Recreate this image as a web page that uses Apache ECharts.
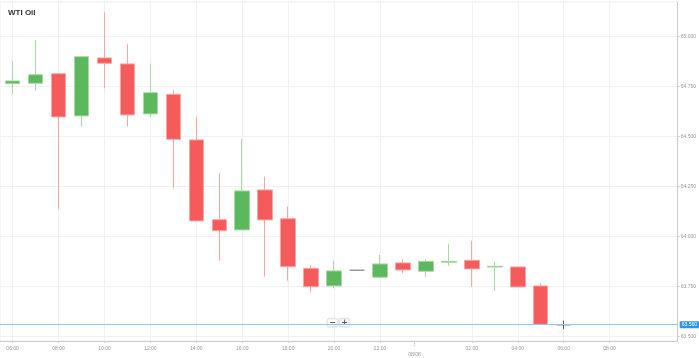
<!DOCTYPE html>
<html>
<head>
<meta charset="utf-8">
<style>html,body{margin:0;padding:0;background:#fff}#c{width:699px;height:358px}</style>
<script src="https://cdn.jsdelivr.net/npm/echarts@6/dist/echarts.min.js"></script>
</head>
<body>
<div id="c"></div>
<script>
// ---- data ----
var titleText = 'WTI Oil';
var times = ['2018-08-07 06:00','2018-08-07 07:00','2018-08-07 08:00','2018-08-07 09:00','2018-08-07 10:00','2018-08-07 11:00','2018-08-07 12:00','2018-08-07 13:00','2018-08-07 14:00','2018-08-07 15:00','2018-08-07 16:00','2018-08-07 17:00','2018-08-07 18:00','2018-08-07 19:00','2018-08-07 20:00','2018-08-07 21:00','2018-08-07 22:00','2018-08-07 23:00','2018-08-08 00:00','2018-08-08 01:00','2018-08-08 02:00','2018-08-08 03:00','2018-08-08 04:00','2018-08-08 05:00','2018-08-08 06:00'];
var openVals  = [64.765,64.767,64.815,64.604,64.894,64.864,64.614,64.712,64.484,64.085,64.034,64.234,64.090,63.842,63.754,63.832,63.797,63.869,63.827,63.872,63.882,63.848,63.849,63.754,63.560];
var closeVals = [64.779,64.810,64.599,64.900,64.867,64.609,64.720,64.487,64.079,64.030,64.229,64.084,63.850,63.750,63.829,63.832,63.864,63.834,63.877,63.877,63.839,63.852,63.749,63.562,63.560];
var lowVals   = [64.712,64.729,64.139,64.550,64.742,64.550,64.600,64.242,64.079,63.880,64.034,63.800,63.780,63.722,63.742,63.832,63.797,63.817,63.800,63.854,63.750,63.730,63.749,63.560,63.537];
var highVals  = [64.879,64.984,64.815,64.900,65.122,64.962,64.865,64.734,64.600,64.319,64.489,64.300,64.150,63.859,63.880,63.832,63.909,63.887,63.887,63.964,63.979,63.875,63.850,63.767,63.580];
var currentPrice = 63.56;
var xTickTimes = ['2018-08-07 06:00','2018-08-07 08:00','2018-08-07 10:00','2018-08-07 12:00','2018-08-07 14:00','2018-08-07 16:00','2018-08-07 18:00','2018-08-07 20:00','2018-08-07 22:00','2018-08-08 02:00','2018-08-08 04:00','2018-08-08 06:00','2018-08-08 08:00'];
var dateLabelTime = '2018-08-07 23:30';
var dateLabelText = '08/08';
var yTicks = [63.5, 63.75, 64.0, 64.25, 64.5, 64.75, 65.0];
var xMinTime = '2018-08-07 05:27';
var xMaxTime = '2018-08-08 10:58';
var yMin = 63.4785, yMax = 65.1735;

function ts(s) {
  var p = s.split(/[- :]/).map(Number);
  return Date.UTC(p[0], p[1] - 1, p[2], p[3], p[4]);
}
function pad(n){ return (n < 10 ? '0' : '') + n; }

var RED = '#f55b5b', RED_B = '#f8a5a5';
var GREEN = '#5cb85c', GREEN_B = '#a9d8a6';

var candleData = times.map(function (t, i) {
  var item = { value: [ts(t), openVals[i], closeVals[i], lowVals[i], highVals[i]] };
  if (i === times.length - 1) {
    item.itemStyle = { color: '#555', color0: '#555', borderColor: '#555', borderColor0: '#555', borderColorDoji: '#555' };
  } else if (openVals[i] === closeVals[i]) {
    item.itemStyle = { borderColor: '#999', borderColor0: '#999', borderColorDoji: '#999', borderWidth: 1.5 };
  }
  return item;
});

var chart = echarts.init(document.getElementById('c'), null, { renderer: 'canvas' });
var gridLeft = 0, gridRight = 20, gridTop = 2, gridBottom = 17;
var option = {
  animation: false,
  backgroundColor: '#fff',
  title: {
    text: titleText, left: 8, top: 9, padding: 0,
    textStyle: { fontSize: 8, fontWeight: 'bold', color: '#333', fontFamily: 'Liberation Sans' }
  },
  grid: { left: gridLeft, right: gridRight, top: gridTop, bottom: gridBottom, show: true, borderColor: '#eee', borderWidth: 1, containLabel: false },
  xAxis: [{
    type: 'value', min: ts(xMinTime), max: ts(xMaxTime), position: 'bottom',
    axisLine: { show: true, lineStyle: { color: '#ccc', width: 1 } },
    axisTick: { show: true, length: 2, lineStyle: { color: '#ccc' }, customValues: xTickTimes.map(ts) },
    axisLabel: {
      customValues: xTickTimes.map(ts), margin: 5, fontSize: 5, color: '#999', fontFamily: 'Liberation Sans',
      formatter: function (v) { var d = new Date(v); return pad(d.getUTCHours()) + ':' + pad(d.getUTCMinutes()); }
    },
    splitLine: { show: true, lineStyle: { color: '#f1f1f1', width: 1 } }
  }, {
    type: 'value', min: ts(xMinTime), max: ts(xMaxTime), position: 'bottom', gridIndex: 0,
    axisLine: { show: false },
    axisTick: { show: true, length: 6, lineStyle: { color: '#bbb', type: 'dotted' }, customValues: [ts(dateLabelTime)] },
    axisLabel: { customValues: [ts(dateLabelTime)], margin: 11, fontSize: 5, color: '#999', fontFamily: 'Liberation Sans', formatter: function () { return dateLabelText; } },
    splitLine: { show: false }
  }],
  yAxis: {
    type: 'value', position: 'right', min: yMin, max: yMax,
    axisLine: { show: true, lineStyle: { color: '#ccc', width: 1 } },
    axisTick: { show: true, length: 2, lineStyle: { color: '#ccc' }, customValues: yTicks },
    axisLabel: { customValues: yTicks, margin: 3, fontSize: 5, color: '#999', fontFamily: 'Liberation Sans', formatter: function (v) { return v.toFixed(3); } },
    splitLine: { show: true, lineStyle: { color: '#f1f1f1', width: 1 } }
  },
  series: [{
    type: 'candlestick',
    xAxisIndex: 0, yAxisIndex: 0,
    barWidth: 15,
    encode: { x: 0, y: [1, 2, 3, 4] },
    data: candleData,
    itemStyle: { color: GREEN, color0: RED, borderColor: GREEN_B, borderColor0: RED_B, borderColorDoji: '#999', borderWidth: 1 },
    markLine: {
      silent: true, symbol: ['none', 'none'], animation: false,
      lineStyle: { color: '#90c8f4', width: 1, type: 'solid' },
      label: {
        show: true, position: 'end', distance: 2, formatter: function () { return currentPrice.toFixed(3); },
        backgroundColor: '#2e95ea', color: '#fff', fontSize: 5, padding: [1, 2], borderRadius: 1, fontFamily: 'Liberation Sans'
      },
      data: [{ yAxis: currentPrice }]
    }
  }]
};
chart.setOption(option);

// zoom buttons, centred in the plot area
var w = chart.getWidth(), h = chart.getHeight();
var cx = gridLeft + (w - gridLeft - gridRight) / 2;
var by = chart.convertToPixel({ yAxisIndex: 0 }, currentPrice) - 6;
function btn(x, label) {
  return {
    type: 'group', x: x, y: by,
    children: [
      { type: 'rect', shape: { x: 0, y: 0, width: 10, height: 8, r: 1 }, style: { fill: '#fff', stroke: '#e4e4e4', lineWidth: 1, shadowBlur: 2, shadowColor: 'rgba(0,0,0,0.12)' } },
      { type: 'text', style: { x: 5, y: 4, text: label, fill: '#555', fontSize: 8, fontWeight: 'bold', align: 'center', verticalAlign: 'middle', fontFamily: 'DejaVu Sans' } }
    ]
  };
}
chart.setOption({ graphic: [btn(cx - 12, '−'), btn(cx, '+')] });
</script>
</body>
</html>
